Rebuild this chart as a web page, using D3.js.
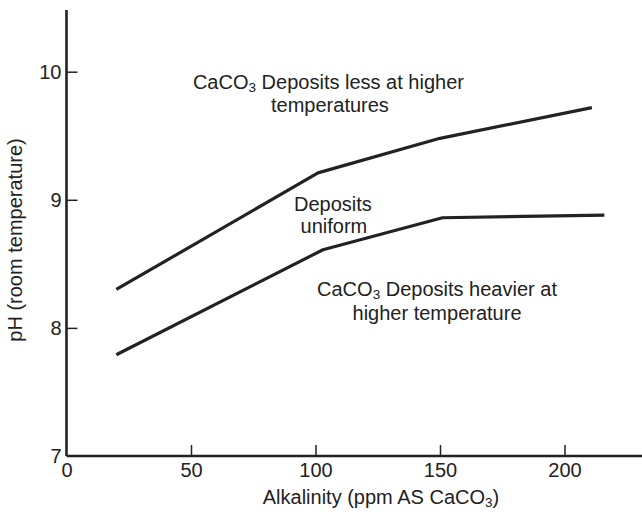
<!DOCTYPE html>
<html>
<head>
<meta charset="utf-8">
<script src="https://cdn.jsdelivr.net/npm/d3@7"></script>
<style>
  html, body { margin: 0; padding: 0; background: #fff; }
  svg { display: block; }
  text { font-family: "Liberation Sans", Arial, Helvetica, sans-serif; fill: #222; }
</style>
</head>
<body>
<svg id="chart" width="642" height="514"></svg>
<script>
// ---- data ----
const xTicks = [0, 50, 100, 150, 200];
const yTicks = [7, 8, 9, 10];
const upperAlkalinity = [20, 101, 150, 211];
const upperPH = [8.30, 9.21, 9.48, 9.72];
const lowerAlkalinity = [20, 103, 151, 216];
const lowerPH = [7.79, 8.61, 8.86, 8.88];
// annotation anchor points (data units) and texts
const noteLines = [
  ["CaCO", "3", " Deposits less at higher"],
  ["temperatures"],
  ["Deposits"],
  ["uniform"],
  ["CaCO", "3", " Deposits heavier at"],
  ["higher temperature"]
];
const noteX = [105.2, 105.8, 107.0, 107.4, 148.8, 148.8];
const notePH = [9.865, 9.685, 8.913, 8.741, 8.249, 8.062];
const xTitle = ["Alkalinity (ppm AS CaCO", "3", ")"];
const yTitle = "pH (room temperature)";

// ---- drawing ----
const svg = d3.select("#chart");
const ink = "#222";
const x = d3.scaleLinear().domain([0, 200]).range([66.5, 564.5]);
const y = d3.scaleLinear().domain([7, 10]).range([456, 71.7]);

// axis lines
svg.append("line").attr("x1", x(0)).attr("x2", 642).attr("y1", y(7)).attr("y2", y(7))
  .attr("stroke", ink).attr("stroke-width", 2.6);
svg.append("line").attr("x1", x(0)).attr("x2", x(0)).attr("y1", y(7)).attr("y2", 10)
  .attr("stroke", ink).attr("stroke-width", 2.6);

const xAxis = svg.append("g").attr("transform", `translate(0,${y(7)})`)
  .call(d3.axisBottom(x).tickValues(xTicks).tickSize(-11).tickPadding(7).tickFormat(d3.format("d")));
xAxis.select(".domain").remove();
xAxis.selectAll(".tick line").attr("stroke", ink).attr("stroke-width", 1.5);
xAxis.selectAll(".tick").filter(d => d === 0).select("line").remove();
xAxis.selectAll("text").attr("font-size", 20).attr("fill", ink)
  .style("font-family", '"Liberation Sans", Arial, sans-serif');

const yAxis = svg.append("g").attr("transform", `translate(${x(0)},0)`)
  .call(d3.axisLeft(y).tickValues(yTicks).tickSize(-11).tickPadding(5).tickFormat(d3.format("d")));
yAxis.select(".domain").remove();
yAxis.selectAll(".tick line").attr("stroke", ink).attr("stroke-width", 1.5);
yAxis.selectAll(".tick").filter(d => d === 7).select("line").remove();
yAxis.selectAll("text").attr("font-size", 20).attr("fill", ink)
  .style("font-family", '"Liberation Sans", Arial, sans-serif');

// lines
const line = d3.line().x(d => x(d[0])).y(d => y(d[1]));
[[upperAlkalinity, upperPH], [lowerAlkalinity, lowerPH]].forEach(([xs, ys]) => {
  svg.append("path").datum(xs.map((v, i) => [v, ys[i]]))
    .attr("d", line).attr("fill", "none").attr("stroke", ink)
    .attr("stroke-width", 3.2).attr("stroke-linejoin", "round");
});

// annotations
function addText(parts, px, py, size) {
  const t = svg.append("text").attr("font-size", size).attr("text-anchor", "middle")
    .attr("x", px).attr("y", py);
  parts.forEach((p, i) => {
    const ts = t.append("tspan").text(p);
    if (parts.length === 3 && i === 1) ts.attr("font-size", size * 0.68).attr("dy", "0.2em");
    if (parts.length === 3 && i === 2) ts.attr("dy", "-0.136em");
  });
  return t;
}
noteLines.forEach((parts, i) => addText(parts, x(noteX[i]), y(notePH[i]), 20));
addText(xTitle, 381, 504, 20);
svg.append("text").attr("font-size", 20).attr("text-anchor", "middle")
  .attr("transform", "translate(22,240) rotate(-90)").text(yTitle);
</script>
</body>
</html>
